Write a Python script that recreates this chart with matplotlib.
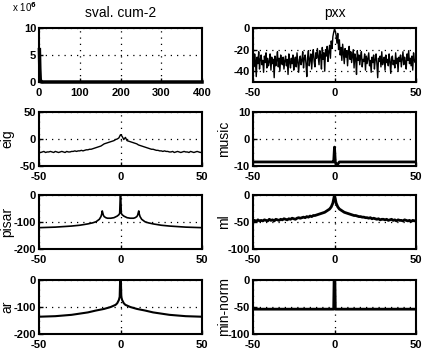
import numpy as np
import matplotlib
matplotlib.use("Agg")
import matplotlib.pyplot as plt

plt.rcParams['font.family'] = ['Liberation Sans', 'DejaVu Sans']
plt.rcParams['font.size'] = 9
plt.rcParams['font.weight'] = 'bold'
plt.rcParams['axes.unicode_minus'] = False

# singular values of the cumulant matrix (first few, the rest are ~0 at this scale)
sval_head = [6.0e6, 2.5e6, 0.6e6, 0.15e6, 0.05e6, 0.02e6]
sval_len = 400

# spectral estimates, frequency axis -50..50
pxx = [-28, -36, -24, -31, -45, -27, -33, -22, -38, -29, -25, -34, -30, -41, -26, -32, -23, -37, -28, -35,
       -31, -24, -39, -27, -33, -29, -46, -26, -35, -30, -22, -36, -28, -40, -25, -32, -34, -27, -38, -30,
       -26, -35, -29, -43, -24, -31, -37, -28, -33, -25, -39, -30, -27, -36, -23, -32, -41, -29, -26, -34,
       -30, -22, -37, -28, -25, -33, -45, -27, -21, -35, -29, -24, -38, -26, -20, -31, -36, -23, -28, -19,
       -27, -34, -21, -25, -38, -18, -29, -23, -40, -20, -26, -17, -31, -22, -16, -28, -12, -19, -8, -4,
       -1,
       -3, -7, -14, -5, -20, -11, -25, -18, -30, -15, -24, -33, -19, -27, -21, -35, -23, -17, -29, -22,
       -32, -26, -20, -37, -24, -28, -43, -21, -30, -25, -34, -27, -22, -36, -29, -31, -24, -39, -26, -33,
       -28, -23, -35, -30, -41, -27, -32, -25, -38, -29, -24, -33, -46, -28, -31, -26, -36, -22, -34, -30,
       -27, -39, -25, -32, -29, -35, -24, -31, -42, -28, -26, -34, -30, -37, -23, -33, -28, -40, -27, -31,
       -25, -36, -29, -22, -34, -27, -31, -38, -24, -30, -21, -33, -28, -35, -26, -39, -23, -30, -32, -29]

eig = [-24, -25, -24, -23, -25, -24, -24, -23, -24, -25, -23, -24, -25, -24, -23, -24, -25, -23, -24, -24,
       -23, -23, -22, -23, -22, -22, -21, -22, -21, -20,
       -20, -19, -19, -18, -17, -16, -15, -14, -13, -11,
       -9, -8, -7, -6, -5, -4, -3, -1, 0, 2,
       8,
       5, -1, 3, -3, -4, -5, -6, -7, -8, -9,
       -11, -12, -13, -14, -15, -16, -17, -18, -19, -19,
       -20, -21, -21, -22, -22, -23, -22, -23, -23, -24,
       -24, -23, -25, -24, -23, -24, -25, -24, -23, -24, -24, -25, -23, -24, -25, -24, -23, -24, -25, -24]

ml = [-48, -47, -49, -46, -48, -47, -48, -46, -47, -48, -45, -47, -46, -48, -45, -46, -47, -45, -46, -44,
      -45, -46, -44, -45, -43, -44, -45, -43, -42, -43,
      -42, -41, -42, -40, -41, -39, -40, -38, -38, -37,
      -36, -35, -34, -33, -32, -30, -28, -26, -22, -15,
      0,
      -15, -22, -26, -28, -30, -32, -33, -34, -35, -36,
      -37, -38, -38, -39, -40, -40, -41, -41, -42, -42,
      -43, -42, -44, -43, -44, -45, -44, -46, -45, -45,
      -46, -45, -47, -46, -45, -47, -46, -48, -46, -47, -47, -48, -46, -47, -48, -47, -49, -47, -48, -47]

music_f = [-50, -1, -0.5, 0, 0.5, 1, 2, 3, 50]
music = [-8.5, -8.5, -8.5, -3, -8.5, -9.4, -9.3, -8.5, -8.5]

pisar_f = [-50, -45, -40, -35, -30, -25, -20, -17, -15, -13, -12, -11.5, -11.2, -10.8, -10.5, -10, -9, -8, -6, -4,
           -2, -1, -0.5, 0, 0.5, 1, 2, 4, 6, 8, 9, 10, 10.5, 10.8, 11.2, 11.5, 12, 13, 15, 17, 20, 25, 30, 35,
           40, 45, 50]
pisar = [-121, -120, -119, -117, -115, -112, -107, -103, -99, -90, -80, -70, -59, -68, -75, -80, -84, -86, -86, -84,
         -78, -73, -68, 20, -68, -73, -78, -84, -86, -86, -84, -80, -75, -68, -59, -70, -80, -90, -99, -103, -107,
         -112, -115, -117, -119, -120, -121]

ar_f = [-50, -40, -30, -20, -15, -10, -6, -3, -2, -1, -0.5, 0, 0.5, 1, 2, 3, 6, 10, 15, 20, 30, 40, 50]
ar = [-136, -134, -129, -120, -113, -107, -100, -92, -86, -74, -62, 50, -62, -74, -86, -92, -100, -107, -113,
      -120, -129, -134, -136]

minnorm_f = [-50, -0.5, 0, 0.5, 50]
minnorm = [-54, -54, 50, -54, -54]

freq = np.linspace(-50, 50, len(pxx))
freq1 = np.linspace(-50, 50, len(eig))
sval = np.zeros(sval_len)
sval[:len(sval_head)] = sval_head

L, R, W, H = 39 / 434, 253 / 434, 163 / 434, 54 / 364


def style(ax, xlim, ylim, xt, yt, ylabel=None, labx=None):
    ax.set_xlim(xlim)
    ax.set_ylim(ylim)
    ax.set_xticks(xt)
    ax.set_yticks(yt)
    ax.grid(True, color='black', linestyle=(0, (1, 4)), linewidth=0.9)
    ax.tick_params(direction='in', length=3, width=1, pad=2, labelsize=8)
    ax.tick_params(axis='x', pad=4)
    for s in ax.spines.values():
        s.set_linewidth(1.5)
    if ylabel:
        ax.set_ylabel(ylabel, fontsize=10, fontweight='normal')
        ax.yaxis.set_label_coords(labx, 0.5)


fig = plt.figure(figsize=(4.34, 3.64), dpi=100)
bottoms = [1 - 82 / 364, 1 - 166 / 364, 1 - 249 / 364, 1 - 334 / 364]
lx_left = (14 - 39) / 163
lx_right = (231 - 253) / 163

ax = fig.add_axes([L, bottoms[0], W, H])
ax.plot(np.arange(1, sval_len + 1), sval / 1e6, color='black', linewidth=2.5, clip_on=False)
style(ax, (0, 400), (0, 10), [0, 100, 200, 300, 400], [0, 5, 10])
ax.set_title('sval. cum-2', fontsize=10, fontweight='normal', pad=8)
fig.text(12 / 434, 1 - 12 / 364, r'x 10$^6$', fontsize=7, fontweight='normal')

ax = fig.add_axes([R, bottoms[0], W, H])
ax.plot(freq, pxx, color='black', linewidth=1)
style(ax, (-50, 50), (-50, 0), [-50, 0, 50], [-40, -20, 0])
ax.set_title('pxx', fontsize=10, fontweight='normal', pad=8)

ax = fig.add_axes([L, bottoms[1], W, H])
ax.plot(freq1, eig, color='black', linewidth=1)
style(ax, (-50, 50), (-50, 50), [-50, 0, 50], [-50, 0, 50], 'eig', lx_left)

ax = fig.add_axes([R, bottoms[1], W, H])
ax.plot(music_f, music, color='black', linewidth=2)
style(ax, (-50, 50), (-10, 10), [-50, 0, 50], [-10, 0, 10], 'music', lx_right)

ax = fig.add_axes([L, bottoms[2], W, H])
ax.plot(pisar_f, pisar, color='black', linewidth=1.2)
style(ax, (-50, 50), (-200, 0), [-50, 0, 50], [-200, -100, 0], 'pisar', lx_left)

ax = fig.add_axes([R, bottoms[2], W, H])
ax.plot(freq1, ml, color='black', linewidth=2)
style(ax, (-50, 50), (-100, 0), [-50, 0, 50], [-100, -50, 0], 'ml', lx_right)

ax = fig.add_axes([L, bottoms[3], W, H])
ax.plot(ar_f, ar, color='black', linewidth=1.5)
style(ax, (-50, 50), (-200, 0), [-50, 0, 50], [-200, -100, 0], 'ar', lx_left)

ax = fig.add_axes([R, bottoms[3], W, H])
ax.plot(minnorm_f, minnorm, color='black', linewidth=2)
style(ax, (-50, 50), (-100, 0), [-50, 0, 50], [-100, -50, 0], 'min-norm', lx_right)

fig.savefig('out.png', dpi=100)
